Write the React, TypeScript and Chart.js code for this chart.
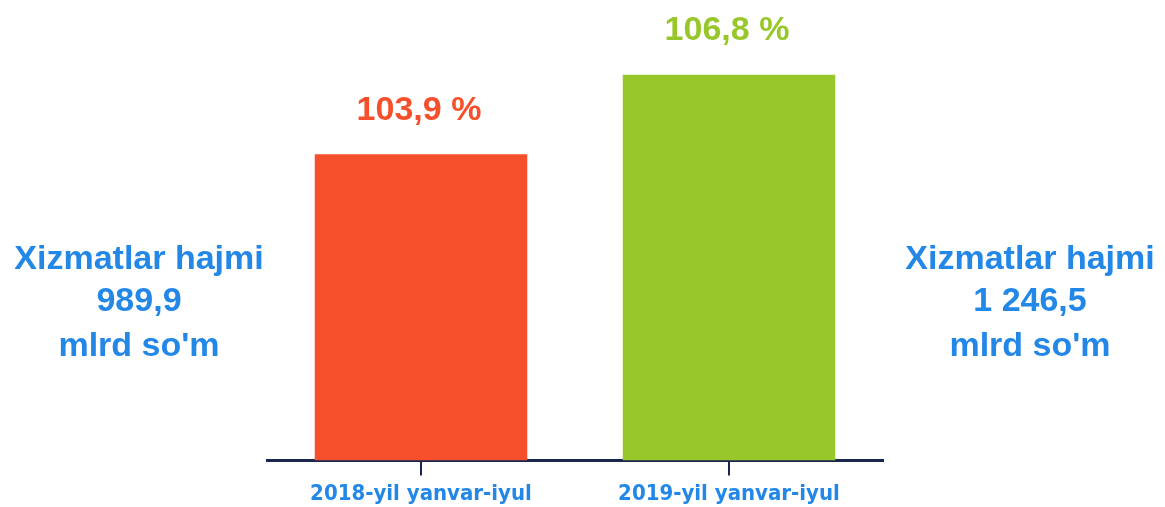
import React, { useEffect, useRef } from "react";
import { Chart, registerables } from "chart.js";

Chart.register(...registerables);

const categories = ["2018-yil yanvar-iyul", "2019-yil yanvar-iyul"];
const volumes = [989.9, 1246.5];
const growthLabels = ["103,9 %", "106,8 %"];
const barColors = ["#F5502B", "#98C72B"];
const leftNote = ["Xizmatlar hajmi", "989,9", "mlrd so'm"];
const rightNote = ["Xizmatlar hajmi", "1 246,5", "mlrd so'm"];

const BLUE = "#2387E8";

const labelsPlugin = {
  id: "customLabels",
  afterDatasetsDraw(chart: any) {
    const ctx = chart.ctx;
    const meta = chart.getDatasetMeta(0);
    ctx.save();
    ctx.textAlign = "center";
    ctx.textBaseline = "middle";
    ctx.font = "bold 34px 'Liberation Sans', Arial, sans-serif";
    meta.data.forEach((bar: any, i: number) => {
      ctx.fillStyle = barColors[i];
      ctx.fillText(growthLabels[i], bar.x - 2, bar.y - 44);
    });
    ctx.font = "bold 34px 'Liberation Sans', Arial, sans-serif";
    ctx.fillStyle = BLUE;
    const ys = [260, 302, 347];
    leftNote.forEach((t, i) => ctx.fillText(t, 139, ys[i]));
    rightNote.forEach((t, i) => ctx.fillText(t, 1030, ys[i]));
    ctx.restore();
  },
};

export default function App() {
  const ref = useRef<HTMLCanvasElement | null>(null);
  useEffect(() => {
    document.body.style.margin = "0";
    const chart = new Chart(ref.current!, {
      type: "bar",
      data: {
        labels: categories,
        datasets: [
          {
            data: volumes,
            backgroundColor: barColors,
            borderWidth: 0,
            barPercentage: 0.69,
            categoryPercentage: 1,
          },
        ],
      },
      options: {
        responsive: false,
        animation: false,
        layout: { padding: { left: 267, right: 282, top: 0, bottom: -6 } },
        plugins: { legend: { display: false }, tooltip: { enabled: false } },
        scales: {
          y: { display: false, min: 0, max: 1488 },
          x: {
            border: { display: true, color: "#1B2552", width: 3 },
            grid: {
              display: true,
              offset: false,
              drawOnChartArea: false,
              drawTicks: true,
              tickLength: 15,
              color: "#1B2552",
              lineWidth: 2,
            },
            ticks: {
              color: BLUE,
              padding: 11,
              font: {
                family: "'DejaVu Sans Condensed', 'DejaVu Sans', sans-serif",
                weight: "bold",
                size: 22,
                lineHeight: 0.7,
              },
            },
          },
        },
      },
      plugins: [labelsPlugin],
    });
    return () => chart.destroy();
  }, []);
  return (
    <div style={{ position: "absolute", left: 0, top: 0, width: 1165, height: 507, background: "#fff" }}>
      <canvas ref={ref} width={1165} height={507} />
    </div>
  );
}
